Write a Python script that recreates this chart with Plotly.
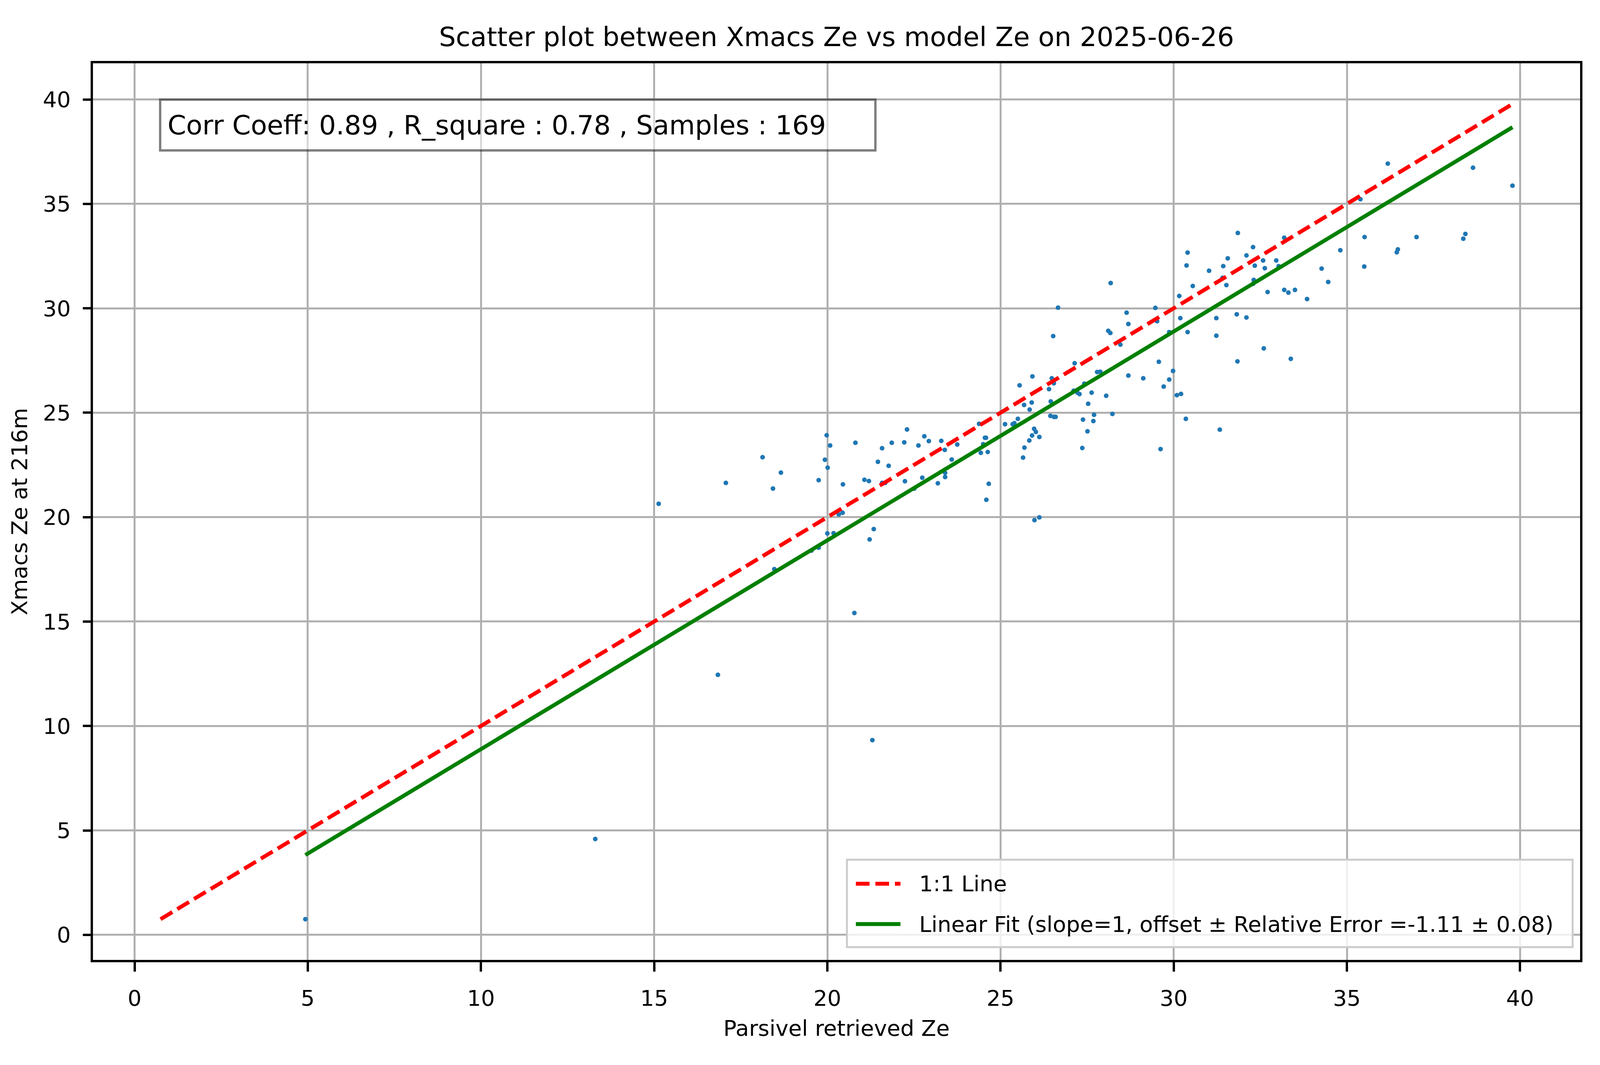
import plotly.graph_objects as go

# Parsivel retrieved Ze (x) and Xmacs Ze at 216 m (y)
parsivel_ze = [
    4.93, 13.3, 16.84, 21.3,
    15.13, 17.07, 18.13, 18.66, 18.43, 18.47, 19.75, 19.98, 20.08, 19.93,
    20.01, 20.45, 20.81, 20.33, 20.44, 20.0, 20.18, 19.75, 19.54, 21.34,
    21.22, 20.78, 21.07, 21.2, 21.46, 21.58, 21.77, 21.86, 21.58, 21.67,
    22.22, 22.3, 22.24, 22.51, 22.63, 22.8, 22.93, 22.74, 23.19, 23.29,
    23.39, 23.4, 23.4, 23.59, 23.75, 24.38, 24.43, 24.55, 24.58, 24.5,
    24.63, 24.66, 24.59,
    26.66, 26.52, 25.55, 25.92, 26.48, 26.54, 26.4, 27.14, 26.45, 25.9,
    25.68, 25.84, 25.5, 25.13, 25.35, 25.4, 26.44, 26.54, 26.59, 25.97,
    26.02, 25.91, 26.12, 25.83, 25.69, 25.65, 25.98, 26.12, 27.11, 27.22,
    27.28, 27.42, 27.63, 27.53, 27.38, 27.7, 27.68, 27.51, 27.36, 27.79,
    27.88, 28.05, 28.23, 28.11, 28.17, 28.46, 28.64, 28.69, 28.69, 29.12,
    29.47, 29.52, 29.57, 29.62, 29.71, 29.87, 29.87, 29.98, 30.09, 30.21,
    30.35, 30.19, 30.4, 30.16, 31.23, 31.23,
    36.18, 38.64, 39.78, 35.39, 31.85, 33.19, 32.29, 30.4, 30.37, 32.1,
    31.56, 31.43, 31.02, 32.58, 32.34, 32.63, 32.96, 33.03, 31.41, 30.55,
    31.52, 32.31, 32.29, 32.71, 33.19, 33.31, 33.5, 33.85, 34.27, 34.46,
    34.81, 35.51, 35.5, 37.01, 36.47, 36.44, 38.42, 38.36, 31.82, 32.1,
    32.6, 31.84, 33.38,
    31.33, 28.18,
]
xmacs_ze = [
    0.75, 4.59, 12.45, 9.32,
    20.64, 21.64, 22.87, 22.13, 21.37, 17.51, 21.77, 23.92, 23.43, 22.75,
    22.37, 21.57, 23.56, 20.13, 20.21, 19.22, 19.23, 18.54, 18.4, 19.43,
    18.93, 15.41, 21.79, 21.73, 22.65, 23.3, 22.46, 23.56, 21.64, 21.64,
    23.58, 24.2, 21.72, 21.37, 23.43, 23.87, 23.64, 21.89, 21.62, 23.65,
    23.22, 22.12, 21.92, 22.76, 23.48, 24.47, 23.08, 23.8, 23.8, 23.49,
    23.12, 21.6, 20.83,
    30.03, 28.67, 26.31, 26.74, 26.65, 26.41, 26.13, 27.37, 25.54, 25.49,
    25.37, 25.15, 24.71, 24.45, 24.45, 24.5, 24.85, 24.8, 24.8, 24.23,
    24.08, 23.91, 23.84, 23.67, 23.33, 22.85, 19.86, 19.99, 26.05, 25.96,
    25.89, 26.39, 25.96, 25.43, 24.67, 24.9, 24.6, 24.11, 23.31, 26.95,
    26.96, 25.81, 24.94, 28.92, 28.82, 28.26, 29.79, 29.25, 26.78, 26.65,
    30.02, 29.38, 27.44, 23.26, 26.25, 26.59, 28.86, 27.0, 25.84, 25.9,
    24.71, 29.53, 28.86, 30.59, 29.53, 28.69,
    36.93, 36.73, 35.87, 35.22, 33.61, 33.38, 32.93, 32.67, 32.05, 32.53,
    32.39, 32.02, 31.8, 32.29, 32.04, 31.92, 32.29, 32.02, 31.46, 31.07,
    31.11, 31.36, 31.17, 30.78, 30.88, 30.75, 30.88, 30.44, 31.9, 31.26,
    32.78, 33.41, 32.0, 33.41, 32.82, 32.68, 33.56, 33.33, 29.71, 29.56,
    28.08, 27.46, 27.58,
    24.19, 31.21,
]

corr_coeff = 0.89
r_square = 0.78
n_samples = 169
fit_offset = -1.11
fit_error = 0.08
plot_date = "2025-06-26"

FONT = "DejaVu Sans"
TITLE_PX = 68
TICK_PX = 56
# the browser viewport is 4096x2726 (minus the 8px body margin)
W, H = 4080, 2710

lo = min(min(parsivel_ze), min(xmacs_ze))
hi = max(max(parsivel_ze), max(xmacs_ze))
one_to_one = [lo, hi]
fit_x = [min(parsivel_ze), max(parsivel_ze)]
fit_y = [v + fit_offset for v in fit_x]
pad = 0.05 * (hi - lo)
axis_range = [lo - pad, hi + pad]

line_name = "1:1 Line"
fit_name = f"Linear Fit (slope=1, offset ± Relative Error ={fit_offset} ± {fit_error})"
red_line = dict(color="red", width=10, dash="35px,15px")
green_line = dict(color="#008000", width=10)

fig = go.Figure()
fig.add_trace(go.Scatter(
    x=parsivel_ze, y=xmacs_ze, mode="markers",
    marker=dict(color="#1f77b4", size=12, line=dict(width=0)),
    showlegend=False,
))
fig.add_trace(go.Scatter(x=one_to_one, y=one_to_one, mode="lines",
                         name=line_name, line=red_line, showlegend=False))
fig.add_trace(go.Scatter(x=fit_x, y=fit_y, mode="lines",
                         name=fit_name, line=green_line, showlegend=False))

axis_common = dict(
    range=axis_range, tickmode="linear", tick0=0, dtick=5,
    showgrid=True, gridcolor="#b0b0b0", gridwidth=5,
    zeroline=False, showline=True, mirror=True,
    linecolor="black", linewidth=5.5,
    ticks="outside", tickwidth=5.5, tickcolor="black",
    tickfont=dict(family=FONT, size=TICK_PX, color="black"),
)

# matplotlib-style legend box in the lower right corner
leg_x0, leg_x1, leg_y0, leg_y1 = 0.507, 0.995, 0.0143, 0.1118
sample_x0, sample_x1, text_x = 0.513, 0.543, 0.555
rows = [(0.085, line_name, red_line), (0.040, fit_name, green_line)]

shapes = [dict(type="rect", xref="paper", yref="paper",
               x0=leg_x0, x1=leg_x1, y0=leg_y0, y1=leg_y1, layer="above",
               fillcolor="rgba(255,255,255,0.8)", line=dict(color="#cccccc", width=5))]
annotations = []
for row_y, label, style in rows:
    shapes.append(dict(type="line", xref="paper", yref="paper", layer="above",
                       x0=sample_x0, x1=sample_x1, y0=row_y, y1=row_y, line=style))
    annotations.append(dict(text=label, xref="paper", yref="paper", x=text_x, y=row_y,
                            xanchor="left", yanchor="middle", showarrow=False,
                            font=dict(family=FONT, size=TICK_PX, color="black")))

annotations.append(dict(
    text=f"Corr Coeff: {corr_coeff} , R_square : {r_square} , Samples : {n_samples}",
    xref="paper", yref="paper", x=0.0445, y=0.9606,
    xanchor="left", yanchor="top", showarrow=False, align="left",
    width=1793, height=92, valign="middle",
    font=dict(family=FONT, size=TITLE_PX, color="black"),
    bgcolor="rgba(255,255,255,0.5)", bordercolor="rgba(0,0,0,0.5)",
    borderwidth=6, borderpad=16,
))

fig.update_layout(
    width=W, height=H,
    paper_bgcolor="white", plot_bgcolor="white",
    margin=dict(l=230, r=43, t=154, b=261),
    font=dict(family=FONT, size=TICK_PX, color="black"),
    title=dict(
        text=f"Scatter plot between Xmacs Ze vs model Ze on {plot_date}",
        font=dict(family=FONT, size=TITLE_PX, color="black"),
        x=0.5, xref="paper", xanchor="center",
        y=1, yref="paper", yanchor="bottom", pad=dict(b=44),
    ),
    xaxis=dict(axis_common, ticklen=24, ticklabelstandoff=20, title=dict(
        text="Parsivel retrieved Ze", standoff=28,
        font=dict(family=FONT, size=TICK_PX, color="black"))),
    yaxis=dict(axis_common, ticklen=20, ticklabelstandoff=20, title=dict(
        text="Xmacs Ze at 216m", standoff=24,
        font=dict(family=FONT, size=TICK_PX, color="black"))),
    shapes=shapes,
    annotations=annotations,
)

fig.write_html("out.html")
